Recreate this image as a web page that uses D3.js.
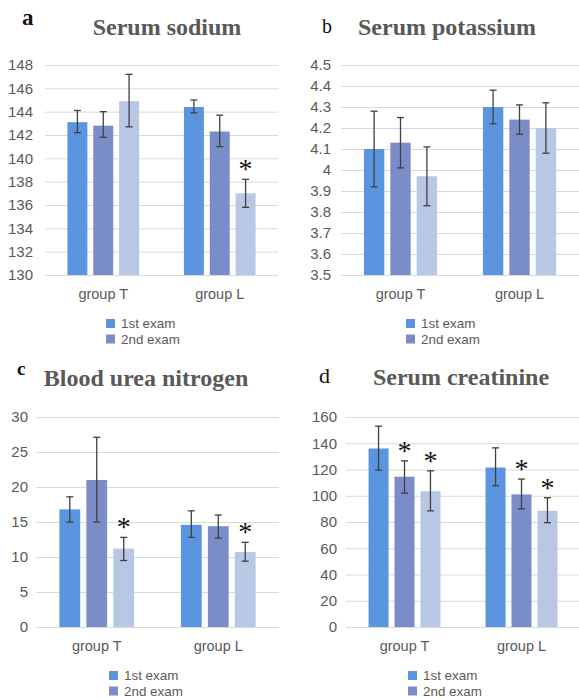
<!DOCTYPE html>
<html>
<head>
<meta charset="utf-8">
<script src="https://cdn.jsdelivr.net/npm/d3@7"></script>
<style>
  body { margin: 0; background: #fff; }
  svg { display: block; }
</style>
</head>
<body>
<div id="chart"></div>
<script>
const width = 579,
      height = 699;

const groups = ['group T', 'group L'];
const seriesCount = 3;
const legendLabels = ['1st exam', '2nd exam'];

// a: serum sodium
const sodiumMean = [[143.1, 142.8, 144.9], [144.4, 142.3, 137.0]];
const sodiumLow  = [[142.2, 141.8, 142.7], [143.9, 141.0, 135.8]];
const sodiumHigh = [[144.1, 144.0, 147.2], [145.0, 143.7, 138.2]];
const sodiumStar = [[0, 0, 0], [0, 0, 1]];
const sodiumTicks = [130, 132, 134, 136, 138, 140, 142, 144, 146, 148];

// b: serum potassium
const potassiumMean = [[4.10, 4.13, 3.97], [4.30, 4.24, 4.20]];
const potassiumLow  = [[3.92, 4.01, 3.83], [4.22, 4.17, 4.08]];
const potassiumHigh = [[4.28, 4.25, 4.11], [4.38, 4.31, 4.32]];
const potassiumStar = [[0, 0, 0], [0, 0, 0]];
const potassiumTicks = [3.5, 3.6, 3.7, 3.8, 3.9, 4, 4.1, 4.2, 4.3, 4.4, 4.5];

// c: blood urea nitrogen
const bunMean = [[16.8, 21.0, 11.2], [14.6, 14.4, 10.7]];
const bunLow  = [[15.0, 15.0, 9.5], [12.8, 12.7, 9.4]];
const bunHigh = [[18.6, 27.1, 12.8], [16.6, 16.0, 12.1]];
const bunStar = [[0, 0, 1], [0, 0, 1]];
const bunTicks = [0, 5, 10, 15, 20, 25, 30];

// d: serum creatinine
const creatMean = [[136.0, 114.5, 103.5], [121.5, 101.0, 88.6]];
const creatLow  = [[119.5, 102.0, 88.5], [107.6, 90.0, 79.5]];
const creatHigh = [[153.0, 126.6, 119.0], [136.5, 112.7, 98.5]];
const creatStar = [[0, 1, 1], [0, 1, 1]];
const creatTicks = [0, 20, 40, 60, 80, 100, 120, 140, 160];

const colours = ['#5b95e0', '#7b8dc8', '#b8c7e4'];

const panels = [
  {letter: 'a', title: 'Serum sodium', mean: sodiumMean, low: sodiumLow, high: sodiumHigh,
   star: sodiumStar, ticks: sodiumTicks,
   x0: 45, x1: 278, y0: 65, y1: 275, pad: 12,
   titleX: 167, titleY: 35, letterX: 22, letterY: 25, letterSize: 23, letterWeight: 'bold', legendX: 106},
  {letter: 'b', title: 'Serum potassium', mean: potassiumMean, low: potassiumLow, high: potassiumHigh,
   star: potassiumStar, ticks: potassiumTicks,
   x0: 341, x1: 579, y0: 65, y1: 275, pad: 10,
   titleX: 447, titleY: 35, letterX: 322, letterY: 33, letterSize: 20, letterWeight: 'normal', legendX: 406},
  {letter: 'c', title: 'Blood urea nitrogen', mean: bunMean, low: bunLow, high: bunHigh,
   star: bunStar, ticks: bunTicks,
   x0: 36, x1: 279, y0: 417, y1: 627, pad: 8,
   titleX: 146, titleY: 386, letterX: 17, letterY: 375, letterSize: 19, letterWeight: 'bold', legendX: 109},
  {letter: 'd', title: 'Serum creatinine', mean: creatMean, low: creatLow, high: creatHigh,
   star: creatStar, ticks: creatTicks,
   x0: 346, x1: 580, y0: 417, y1: 627, pad: 9,
   titleX: 461, titleY: 385, letterX: 319, letterY: 383, letterSize: 22, letterWeight: 'normal', legendX: 408}
];

const svg = d3.select('#chart').append('svg')
    .attr('width', width)
    .attr('height', height)
    .style('font-family', 'Liberation Sans, Arial, sans-serif');

panels.forEach(p => {
  const g = svg.append('g').attr('class', 'panel');

  const x = d3.scaleBand()
      .domain(groups)
      .range([p.x0, p.x1]);

  // bars inside one group
  const inner = d3.scaleBand()
      .domain(d3.range(seriesCount))
      .range([0, x.bandwidth()])
      .paddingInner(0.228)
      .paddingOuter(0.868);

  const y = d3.scaleLinear()
      .domain([p.ticks[0], p.ticks[p.ticks.length - 1]])
      .range([p.y1, p.y0]);

  const yAxis = d3.axisLeft(y)
      .tickValues(p.ticks)
      .tickSize(-(p.x1 - p.x0))
      .tickPadding(p.pad)
      .tickFormat(d => d);

  const axis = g.append('g')
      .attr('transform', 'translate(' + p.x0 + ',0)')
      .call(yAxis);
  axis.select('.domain').remove();
  axis.selectAll('line')
      .style('stroke', '#d9d9d9')
      .style('stroke-width', 1);
  axis.selectAll('text')
      .style('fill', '#595959')
      .style('font-size', '15px')
      .style('font-family', 'Liberation Sans, Arial, sans-serif');

  const rows = [];
  groups.forEach((grp, gi) => {
    for (let si = 0; si < seriesCount; si++) {
      rows.push({group: grp, s: si, mean: p.mean[gi][si], low: p.low[gi][si],
                 high: p.high[gi][si], star: p.star[gi][si]});
    }
  });

  const cx = d => x(d.group) + inner(d.s) + inner.bandwidth() / 2;

  g.selectAll('rect.bar')
      .data(rows)
    .enter().append('rect')
      .attr('class', 'bar')
      .attr('x', d => x(d.group) + inner(d.s))
      .attr('width', inner.bandwidth())
      .attr('y', d => y(d.mean))
      .attr('height', d => y(p.ticks[0]) - y(d.mean))
      .style('fill', d => colours[d.s]);

  const err = g.selectAll('g.err')
      .data(rows)
    .enter().append('g')
      .attr('class', 'err')
      .style('stroke', '#404040')
      .style('stroke-width', 1.3);
  err.append('line')
      .attr('x1', cx).attr('x2', cx)
      .attr('y1', d => y(d.low)).attr('y2', d => y(d.high));
  err.append('line')
      .attr('x1', d => cx(d) - 3.5).attr('x2', d => cx(d) + 3.5)
      .attr('y1', d => y(d.low)).attr('y2', d => y(d.low));
  err.append('line')
      .attr('x1', d => cx(d) - 3.5).attr('x2', d => cx(d) + 3.5)
      .attr('y1', d => y(d.high)).attr('y2', d => y(d.high));

  g.selectAll('text.star')
      .data(rows.filter(d => d.star))
    .enter().append('text')
      .attr('class', 'star')
      .attr('x', cx)
      .attr('y', d => y(d.high) - 1)
      .attr('text-anchor', 'middle')
      .style('font-family', 'Liberation Serif, Times New Roman, serif')
      .style('font-size', '28px')
      .style('fill', '#111')
      .text('*');

  g.selectAll('text.cat')
      .data(groups)
    .enter().append('text')
      .attr('class', 'cat')
      .attr('x', d => x(d) + x.bandwidth() / 2)
      .attr('y', p.y1 + 24)
      .attr('text-anchor', 'middle')
      .style('font-size', '14.5px')
      .style('fill', '#595959')
      .text(d => d);

  g.append('text')
      .attr('x', p.titleX)
      .attr('y', p.titleY)
      .attr('text-anchor', 'middle')
      .style('font-family', 'Liberation Serif, Times New Roman, serif')
      .style('font-weight', 'bold')
      .style('font-size', '24px')
      .style('fill', '#595959')
      .text(p.title);

  g.append('text')
      .attr('x', p.letterX)
      .attr('y', p.letterY)
      .style('font-family', 'Liberation Serif, Times New Roman, serif')
      .style('font-weight', p.letterWeight)
      .style('font-size', p.letterSize + 'px')
      .style('fill', '#111')
      .text(p.letter);

  const legend = g.selectAll('g.legend')
      .data(legendLabels)
    .enter().append('g')
      .attr('class', 'legend')
      .attr('transform', (d, i) => 'translate(' + p.legendX + ',' + (p.y1 + 53 + i * 15.5) + ')');
  legend.append('rect')
      .attr('x', 0)
      .attr('y', -9)
      .attr('width', 9)
      .attr('height', 9)
      .style('fill', (d, i) => colours[i]);
  legend.append('text')
      .attr('x', 15)
      .attr('y', 0)
      .style('font-size', '13.4px')
      .style('fill', '#595959')
      .text(d => d);
});
</script>
</body>
</html>
